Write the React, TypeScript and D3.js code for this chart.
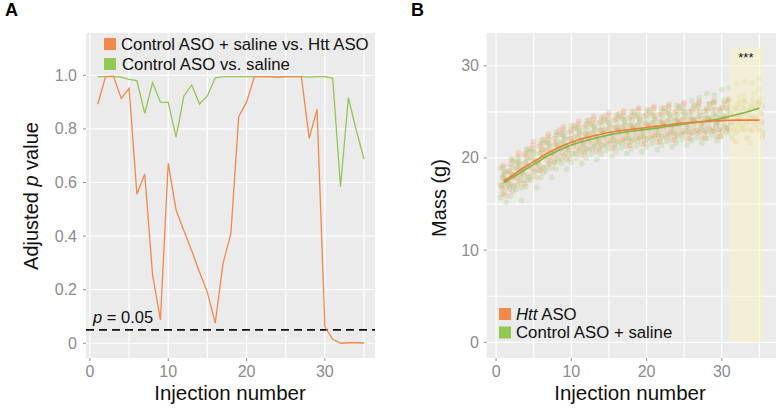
import * as d3 from 'd3';

const injections = d3.range(1, 36);

// Panel A: adjusted p values per injection
const pHttVsCtrl = [0.892, 0.995, 0.997, 0.914, 0.951, 0.556, 0.632, 0.255, 0.087, 0.672,
  0.497, 0.42, 0.345, 0.265, 0.19, 0.075, 0.298, 0.41, 0.846, 0.9,
  0.995, 0.995, 0.995, 0.993, 0.995, 0.995, 0.995, 0.765, 0.873, 0.062,
  0.015, 0.0, 0.002, 0.002, 0.001];
const pCtrlVsSaline = [0.995, 0.995, 0.995, 0.993, 0.985, 0.98, 0.858, 0.973, 0.9, 0.899,
  0.769, 0.923, 0.964, 0.893, 0.923, 0.991, 0.995, 0.995, 0.995, 0.995,
  0.995, 0.995, 0.995, 0.993, 0.995, 0.995, 0.995, 0.993, 0.995, 0.995,
  0.989, 0.584, 0.917, 0.796, 0.687];
const pTicks = [0, 0.2, 0.4, 0.6, 0.8, 1.0];
const pTickLabels = ['0', '0.2', '0.4', '0.6', '0.8', '1.0'];
const xTicks = [0, 10, 20, 30];

// Panel B: mass per mouse (g), one row per injection
const massHtt = [
  [16.2, 17.0, 18.4, 17.8, 15.9, 18.9, 17.3, 16.7, 19.2, 17.6],
  [17.1, 18.6, 16.4, 19.3, 18.0, 17.5, 19.8, 16.9, 18.3, 17.8],
  [17.4, 19.5, 18.1, 20.2, 16.8, 18.9, 19.1, 17.9, 20.6, 18.4],
  [18.2, 20.3, 17.6, 19.4, 21.0, 18.8, 19.9, 17.2, 20.5, 19.0],
  [18.5, 20.8, 19.2, 21.4, 17.9, 20.1, 19.7, 18.8, 21.8, 19.5],
  [19.0, 21.3, 18.4, 20.6, 22.0, 19.6, 20.9, 18.7, 21.5, 20.2],
  [19.4, 21.7, 20.1, 22.3, 18.9, 20.8, 21.2, 19.8, 22.6, 20.5],
  [19.9, 22.1, 20.4, 21.6, 23.0, 20.7, 21.3, 19.5, 22.5, 21.1],
  [20.2, 22.6, 21.0, 23.1, 19.8, 21.6, 22.0, 20.6, 23.4, 21.3],
  [20.5, 22.8, 21.2, 22.1, 23.5, 20.9, 21.9, 19.9, 23.0, 21.6],
  [20.8, 23.2, 21.6, 23.7, 20.3, 22.3, 22.6, 21.1, 24.0, 21.9],
  [21.0, 23.3, 21.7, 22.6, 24.1, 21.4, 22.5, 20.6, 23.6, 22.1],
  [21.2, 23.6, 22.0, 24.2, 20.7, 22.7, 23.0, 21.5, 24.5, 22.3],
  [21.4, 23.8, 22.1, 23.0, 24.5, 21.7, 22.9, 20.9, 24.0, 22.6],
  [21.6, 24.0, 22.3, 24.6, 21.0, 23.1, 23.4, 21.9, 24.9, 22.7],
  [21.8, 24.1, 22.4, 23.3, 24.8, 21.9, 23.2, 21.2, 24.3, 22.9],
  [21.9, 24.3, 22.6, 24.9, 21.3, 23.3, 23.6, 22.1, 25.1, 22.9],
  [21.9, 24.3, 22.6, 23.5, 25.0, 22.1, 23.4, 21.4, 24.5, 23.1],
  [22.1, 24.5, 22.8, 25.2, 21.5, 23.5, 23.9, 22.3, 25.4, 23.1],
  [22.1, 24.5, 22.8, 23.7, 25.2, 22.3, 23.6, 21.6, 24.7, 23.3],
  [22.3, 24.7, 23.0, 25.4, 21.7, 23.7, 24.1, 22.5, 25.6, 23.3],
  [22.3, 24.7, 23.0, 23.9, 25.4, 22.5, 23.8, 21.8, 24.9, 23.5],
  [22.5, 24.9, 23.2, 25.6, 21.9, 23.9, 24.3, 22.7, 25.8, 23.5],
  [22.5, 24.9, 23.2, 24.1, 25.6, 22.7, 24.0, 22.0, 25.1, 23.7],
  [22.7, 25.1, 23.4, 25.8, 22.1, 24.1, 24.5, 22.9, 26.0, 23.7],
  [22.7, 25.0, 23.3, 24.2, 25.7, 22.8, 24.1, 22.1, 25.2, 23.9],
  [22.8, 25.2, 23.5, 25.9, 22.2, 24.2, 24.6, 23.0, 26.1, 23.8],
  [22.8, 25.1, 23.4, 24.3, 25.8, 22.9, 24.2, 22.2, 25.3, 24.0],
  [22.9, 25.3, 23.6, 26.0, 22.3, 24.3, 24.7, 23.1, 26.2, 23.9],
  [22.9, 25.2, 23.5, 24.4, 25.9, 23.0, 24.3, 22.3, 25.4, 24.1],
  [23.0, 25.4, 23.7, 26.1, 22.4, 24.4, 24.8, 23.2, 26.3, 24.0],
  [22.9, 25.3, 23.6, 24.5, 26.0, 23.1, 24.4, 21.8, 25.5, 24.2],
  [23.0, 25.4, 23.7, 26.1, 22.1, 24.4, 24.8, 23.2, 26.3, 24.0],
  [22.9, 25.3, 23.6, 24.5, 26.0, 23.1, 24.4, 21.6, 25.5, 24.2],
  [23.0, 25.4, 23.7, 25.9, 22.3, 24.4, 24.8, 23.2, 26.1, 24.0],
];
const massCtrl = [
  [16.1, 18.5, 15.7, 17.6, 19.0, 16.8, 17.9, 15.2, 18.2, 17.1],
  [16.6, 19.0, 17.2, 19.6, 15.9, 18.1, 18.5, 16.9, 19.9, 17.7],
  [17.1, 19.4, 16.6, 18.6, 20.0, 17.6, 18.9, 15.4, 19.6, 18.2],
  [17.6, 20.0, 18.2, 20.6, 16.9, 19.1, 19.5, 17.9, 20.9, 18.7],
  [18.1, 20.4, 17.6, 19.6, 21.0, 18.6, 19.9, 16.8, 20.6, 19.2],
  [18.6, 21.0, 19.2, 21.6, 17.9, 20.1, 20.5, 18.9, 21.9, 19.7],
  [19.1, 21.4, 18.6, 20.6, 22.0, 19.6, 20.9, 17.9, 21.6, 20.2],
  [19.5, 21.9, 20.1, 22.5, 18.8, 21.0, 21.4, 19.8, 22.8, 20.6],
  [19.9, 22.2, 19.4, 21.4, 22.8, 20.4, 21.7, 18.8, 22.4, 21.0],
  [20.2, 22.6, 20.8, 23.2, 19.5, 21.7, 22.1, 20.5, 23.5, 21.3],
  [20.5, 22.8, 20.0, 22.0, 23.4, 21.0, 22.3, 19.4, 23.0, 21.6],
  [20.7, 23.1, 21.3, 23.7, 20.0, 22.2, 22.6, 21.0, 24.0, 21.8],
  [20.9, 23.2, 20.4, 22.4, 23.8, 21.4, 22.7, 19.8, 23.4, 22.0],
  [21.1, 23.5, 21.7, 24.1, 20.4, 22.6, 23.0, 21.4, 24.4, 22.2],
  [21.3, 23.6, 20.8, 22.8, 24.2, 21.8, 23.1, 20.2, 23.8, 22.4],
  [21.4, 23.8, 22.0, 24.4, 20.7, 22.9, 23.3, 21.7, 24.7, 22.5],
  [21.6, 23.9, 21.1, 23.1, 24.5, 22.1, 23.4, 20.5, 24.1, 22.7],
  [21.7, 24.1, 22.3, 24.7, 21.0, 23.2, 23.6, 22.0, 25.0, 22.8],
  [21.8, 24.1, 21.3, 23.3, 24.7, 22.3, 23.6, 20.7, 24.3, 22.9],
  [21.9, 24.3, 22.5, 24.9, 21.2, 23.4, 23.8, 22.2, 25.2, 23.0],
  [22.0, 24.3, 21.5, 23.5, 24.9, 22.5, 23.8, 20.9, 24.5, 23.1],
  [22.1, 24.5, 22.7, 25.1, 21.4, 23.6, 24.0, 22.4, 25.4, 23.2],
  [22.2, 24.6, 21.8, 23.8, 25.2, 22.8, 24.1, 21.2, 24.8, 23.4],
  [22.3, 24.7, 22.9, 25.4, 21.6, 23.8, 24.3, 22.6, 25.7, 23.5],
  [22.5, 24.8, 22.0, 24.0, 25.4, 23.0, 24.3, 21.4, 25.0, 23.6],
  [22.6, 25.0, 23.2, 25.6, 21.9, 24.1, 24.5, 22.9, 26.2, 23.7],
  [22.7, 25.0, 22.2, 24.2, 25.6, 23.2, 24.5, 21.6, 26.5, 23.8],
  [22.8, 25.2, 23.4, 25.9, 22.1, 24.3, 24.7, 23.1, 27.0, 23.9],
  [22.9, 25.3, 22.5, 24.5, 26.0, 23.5, 24.8, 21.9, 26.8, 24.1],
  [23.1, 25.5, 23.7, 26.2, 22.4, 24.6, 25.0, 23.4, 27.4, 24.2],
  [23.3, 25.6, 22.8, 24.8, 26.4, 23.8, 25.1, 22.1, 27.6, 24.4],
  [23.5, 25.9, 24.1, 26.6, 22.7, 25.0, 25.4, 23.8, 28.0, 24.6],
  [23.6, 26.1, 23.2, 25.2, 26.9, 24.2, 25.5, 22.3, 28.3, 24.8],
  [23.9, 26.4, 24.5, 27.0, 23.1, 25.4, 25.8, 24.2, 28.1, 25.0],
  [24.1, 26.5, 23.7, 25.7, 27.4, 24.8, 26.0, 22.8, 28.6, 25.3],
];
// smoothed fits
const fitHtt = [17.5, 18.0, 18.6, 19.1, 19.6, 20.1, 20.6, 21.0, 21.4, 21.7, 22.0, 22.2, 22.4, 22.6, 22.75,
  22.9, 23.0, 23.1, 23.2, 23.3, 23.4, 23.5, 23.6, 23.7, 23.8, 23.85, 23.9, 23.95, 24.0, 24.05,
  24.1, 24.1, 24.1, 24.1, 24.1];
const fitCtrl = [17.3, 17.8, 18.3, 18.8, 19.3, 19.8, 20.3, 20.7, 21.1, 21.4, 21.7, 21.9, 22.1, 22.3, 22.5,
  22.65, 22.8, 22.9, 23.0, 23.1, 23.2, 23.3, 23.45, 23.55, 23.7, 23.8, 23.9, 24.0, 24.15, 24.3,
  24.5, 24.7, 24.9, 25.15, 25.4];
const jitterHtt = [0.05, -0.3, 0.25, -0.1, 0.35, -0.38, 0.15, -0.2, -0.02, 0.3];
const jitterCtrl = [-0.25, 0.1, -0.35, 0.3, -0.05, 0.2, -0.15, 0.38, 0.0, -0.4];
const massTicks = [0, 10, 20, 30];
const sigRange = [31, 35.5];
const sigTop = 32;

const ORANGE = '#f2884a';
const GREEN = '#92c655';
const BG = '#ebebeb';
const FONT = 'Liberation Sans, Arial, Helvetica, sans-serif';
const TICK_COLOR = '#8c8c8c';

const top = 33, bottom = 358;

export default function App() {
  // Panel A scales
  const xA = d3.scaleLinear().domain([-0.5, 36.4]).range([86, 375]);
  const yA = d3.scaleLinear().domain([-0.055, 1.158]).range([bottom, top]);
  const lineA = d3.line<number>().x((_, i) => xA(injections[i])).y(d => yA(d));

  // Panel B scales
  const xB = d3.scaleLinear().domain([-1.25, 37.2]).range([486.7, 776]);
  const yB = d3.scaleLinear().domain([-1.7, 33.55]).range([bottom, top]);
  const lineB = d3.line<number>().x((_, i) => xB(injections[i])).y(d => yB(d)).curve(d3.curveBasis);

  const gridX = d3.range(0, 40, 5);
  const gridYB = d3.range(0, 35, 5);

  return (
    <svg width={777} height={411} style={{ position: 'absolute', left: 0, top: 0 }} fontFamily={FONT}>
      {/* ---------- Panel A ---------- */}
      <text x={5} y={16} fontSize={18} fontWeight="bold">A</text>
      <rect x={86} y={top} width={375 - 86} height={bottom - top} fill={BG} />
      {gridX.filter(v => xA(v) < 375).map(v => (
        <line key={'ax' + v} x1={xA(v)} x2={xA(v)} y1={top} y2={bottom} stroke="#fff" strokeWidth={1.2} />
      ))}
      {pTicks.map(v => (
        <line key={'ay' + v} x1={86} x2={375} y1={yA(v)} y2={yA(v)} stroke="#fff" strokeWidth={1.2} />
      ))}
      <line x1={86} x2={375} y1={yA(0.05)} y2={yA(0.05)} stroke="#111" strokeWidth={1.6} strokeDasharray="8 5" />
      <text x={93} y={323} fontSize={16.5} fill="#111"><tspan fontStyle="italic">p</tspan> = 0.05</text>
      <path d={lineA(pCtrlVsSaline) || ''} fill="none" stroke={GREEN} strokeWidth={1.3} />
      <path d={lineA(pHttVsCtrl) || ''} fill="none" stroke={ORANGE} strokeWidth={1.3} />
      {/* legend A */}
      <rect x={104} y={38} width={12} height={12} fill={ORANGE} />
      <text x={121} y={49.5} fontSize={16.8} fill="#111">Control ASO + saline vs. Htt ASO</text>
      <rect x={104} y={58} width={12} height={12} fill={GREEN} />
      <text x={122} y={70} fontSize={16.8} fill="#111">Control ASO vs. saline</text>
      {/* axes A */}
      {pTicks.map((v, i) => (
        <g key={'ayt' + v}>
          <line x1={83} x2={86} y1={yA(v)} y2={yA(v)} stroke={TICK_COLOR} />
          <text x={77} y={yA(v) + 5.5} fontSize={16} fill={TICK_COLOR} textAnchor="end">{pTickLabels[i]}</text>
        </g>
      ))}
      {xTicks.map(v => (
        <g key={'axt' + v}>
          <line x1={xA(v)} x2={xA(v)} y1={bottom} y2={bottom + 3} stroke={TICK_COLOR} />
          <text x={xA(v)} y={377} fontSize={16} fill={TICK_COLOR} textAnchor="middle">{v}</text>
        </g>
      ))}
      <text x={230} y={400} fontSize={20.5} fill="#111" textAnchor="middle">Injection number</text>
      <text transform="translate(38,196) rotate(-90)" fontSize={20} fill="#111" textAnchor="middle">
        Adjusted <tspan fontStyle="italic">p</tspan> value
      </text>

      {/* ---------- Panel B ---------- */}
      <text x={411} y={16} fontSize={18} fontWeight="bold">B</text>
      <rect x={486.7} y={top} width={776 - 486.7} height={bottom - top} fill={BG} />
      {gridX.map(v => (
        <line key={'bx' + v} x1={xB(v)} x2={xB(v)} y1={top} y2={bottom} stroke="#fff" strokeWidth={1.2} />
      ))}
      {gridYB.map(v => (
        <line key={'by' + v} x1={486.7} x2={776} y1={yB(v)} y2={yB(v)} stroke="#fff" strokeWidth={1.2} />
      ))}
      {injections.map((inj, i) => (
        <g key={'pts' + inj}>
          {massHtt[i].map((m, j) => (
            <circle key={'h' + j} cx={xB(inj + jitterHtt[j])} cy={yB(m)} r={2.9} fill={ORANGE} opacity={0.22} />
          ))}
          {massCtrl[i].map((m, j) => (
            <circle key={'c' + j} cx={xB(inj + jitterCtrl[j])} cy={yB(m)} r={2.9} fill={GREEN} opacity={0.22} />
          ))}
        </g>
      ))}
      {/* shaded significance window drawn over points */}
      <rect x={xB(sigRange[0])} y={yB(sigTop)} width={xB(sigRange[1]) - xB(sigRange[0])}
        height={yB(0) - yB(sigTop)} fill="#f8f3c4" opacity={0.55} />
      <text x={xB(33.2)} y={62} fontSize={13} fill="#111" textAnchor="middle">***</text>
      <path d={lineB(fitCtrl) || ''} fill="none" stroke="#7db848" strokeWidth={1.6} />
      <path d={lineB(fitHtt) || ''} fill="none" stroke="#ee7d3a" strokeWidth={1.6} />
      {/* legend B */}
      <rect x={499} y={308} width={12} height={12} fill={ORANGE} />
      <text x={516} y={319.5} fontSize={16.8} fill="#111"><tspan fontStyle="italic">Htt</tspan> ASO</text>
      <rect x={499} y={326.5} width={12} height={12} fill={GREEN} />
      <text x={516} y={337.5} fontSize={16.8} fill="#111">Control ASO + saline</text>
      {/* axes B */}
      {massTicks.map(v => (
        <g key={'byt' + v}>
          <line x1={483.7} x2={486.7} y1={yB(v)} y2={yB(v)} stroke={TICK_COLOR} />
          <text x={479} y={yB(v) + 5.5} fontSize={16} fill={TICK_COLOR} textAnchor="end">{v}</text>
        </g>
      ))}
      {xTicks.map(v => (
        <g key={'bxt' + v}>
          <line x1={xB(v)} x2={xB(v)} y1={bottom} y2={bottom + 3} stroke={TICK_COLOR} />
          <text x={xB(v)} y={377} fontSize={16} fill={TICK_COLOR} textAnchor="middle">{v}</text>
        </g>
      ))}
      <text x={630} y={400} fontSize={20.5} fill="#111" textAnchor="middle">Injection number</text>
      <text transform="translate(446,198) rotate(-90)" fontSize={20} fill="#111" textAnchor="middle">Mass (g)</text>
    </svg>
  );
}
